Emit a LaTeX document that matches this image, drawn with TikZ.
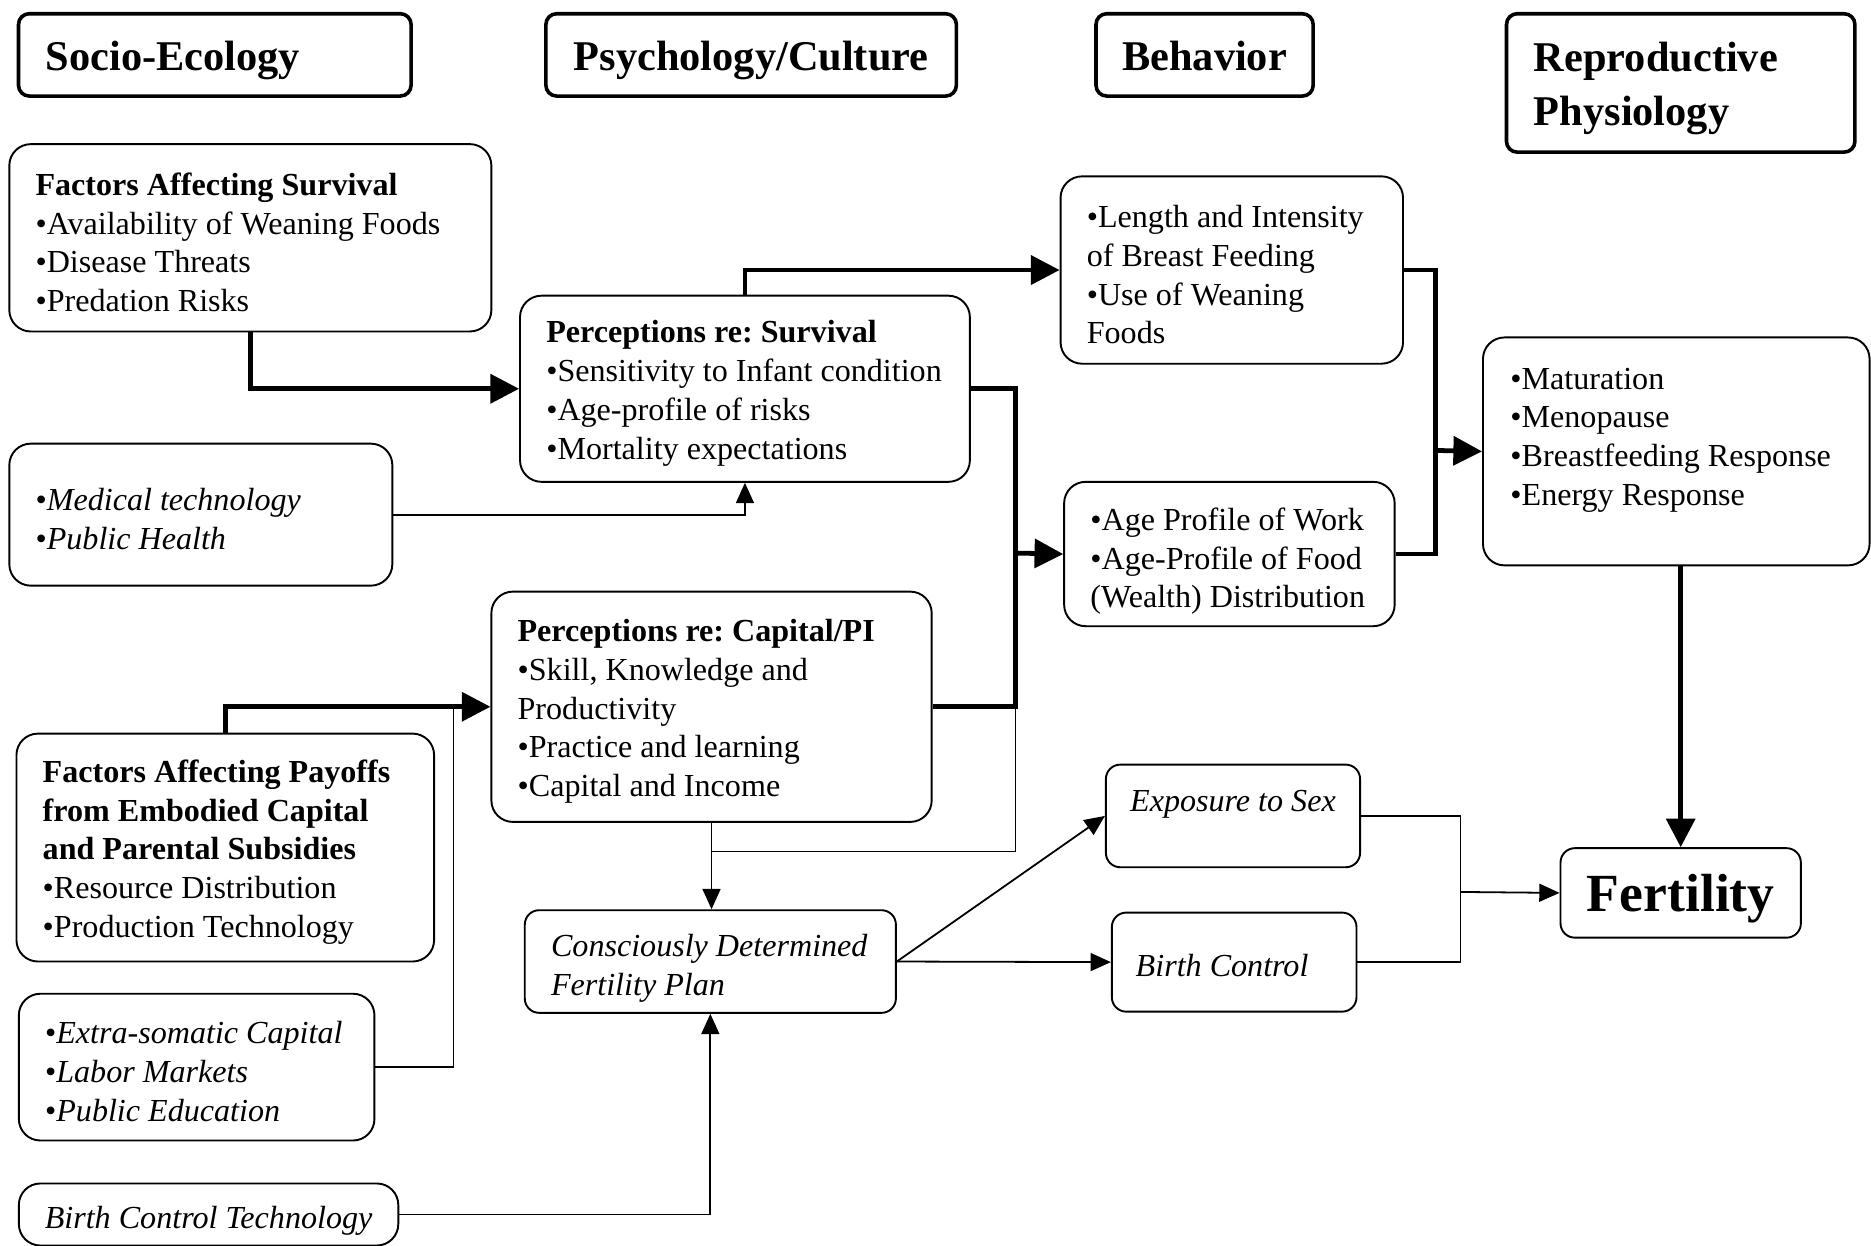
\documentclass[tikz,border=0pt]{standalone}
\usepackage{fontspec}
\setmainfont{Liberation Serif}
\usetikzlibrary{arrows.meta}

\newcommand{\bodyfont}{\fontsize{26.9}{32.5}\selectfont\frenchspacing}
\newcommand{\headfont}{\fontsize{35.5}{45}\selectfont\bfseries}
\newcommand{\bigfont}{\fontsize{45}{50}\selectfont\bfseries}

\tikzset{
  head/.style={draw,line width=3pt,rounded corners=9pt,anchor=north west,
    align=flush left,inner xsep=23pt,inner ysep=0pt,font=\headfont,text height=34pt},
  box/.style={draw,line width=1.6pt,rounded corners=18pt,anchor=north west,
    align=flush left,inner xsep=22pt,inner ysep=0pt,text height=26.5pt},
  cbox/.style={box,inner xsep=8pt},
  fat/.style={line width=4pt,-{Triangle[length=24pt,width=24pt]}},
  fatline/.style={line width=4pt},
  thin/.style={line width=1.5pt,-{Triangle[length=17pt,width=15pt]}},
  thinline/.style={line width=1.5pt}
}
\tikzstyle{every node}=[font=\bodyfont]

\begin{document}
\begin{tikzpicture}[x=1pt,y=-1pt]
    \useasboundingbox (0,0) rectangle (1568,1044);
    % column heads
    \node[head,text width=283pt,text depth=8pt,minimum height=69pt] (socio) at (14,10) {Socio-Ecology};
    \node[head,inner xsep=8pt,text depth=8pt,minimum width=344pt,minimum height=69pt] (psych) at (456,10) {Psychology/Culture};
    \node[head,inner xsep=8pt,text depth=8pt,minimum width=182pt,minimum height=69pt] (behav) at (917,10) {Behavior};
    \node[head,text width=246pt,minimum height=116pt] (repro) at (1261,10) {Reproductive\\Physiology};
    % socio-ecology
    \node[box,text width=360pt,minimum height=157pt] (FS) at (7,120)
      {\textbf{Factors Affecting Survival}\\•Availability of Weaning Foods\\•Disease Threats\\•Predation Risks};
    \node[box,text width=277pt,minimum height=119pt] (MT) at (7,371)
      {•\textit{Medical technology}\\•\textit{Public Health}};
    \node[box,text width=306pt,minimum height=191pt] (FP) at (13,614)
      {\textbf{Factors Affecting Payoffs}\\\textbf{from Embodied Capital}\\\textbf{and Parental Subsidies}\\•Resource Distribution\\•Production Technology};
    \node[box,text width=254pt,minimum height=123pt] (ES) at (15,832)
      {•\textit{Extra-somatic Capital}\\•\textit{Labor Markets}\\•\textit{Public Education}};
    \node[cbox,text height=30pt,minimum width=318pt,minimum height=52pt] (BCT) at (15,991)
      {\textit{Birth Control Technology}};
    % psychology/culture
    \node[box,text width=333pt,minimum height=156pt] (PS) at (435,247)
      {\textbf{Perceptions re: Survival}\\•Sensitivity to Infant condition\\•Age-profile of risks\\•Mortality expectations};
    \node[box,text width=325pt,minimum height=193pt] (PC) at (411,495)
      {\textbf{Perceptions re: Capital/PI}\\•Skill, Knowledge and\\Productivity\\•Practice and learning\\•Capital and Income};
    \node[box,rounded corners=12pt,text height=30pt,text width=267pt,minimum height=86pt] (CD) at (439,762)
      {\textit{Consciously Determined}\\\textit{Fertility Plan}};
    % behavior
    \node[box,text width=243pt,minimum height=157pt] (BF) at (888,147)
      {•Length and Intensity\\of Breast Feeding\\•Use of Weaning\\Foods};
    \node[box,text height=31pt,text width=233pt,minimum height=121pt] (AW) at (891,403)
      {•Age Profile of Work\\•Age-Profile of Food\\(Wealth) Distribution};
    \node[cbox,rounded corners=12pt,minimum width=213pt,minimum height=86pt,text depth=34pt] (EX) at (926,640)
      {\textit{Exposure to Sex}};
    \node[box,rounded corners=12pt,inner xsep=20pt,text height=25pt,text width=165pt,minimum height=83pt] (BC) at (931,764)
      {\textit{Birth Control}};
    % reproductive physiology
    \node[box,inner xsep=23pt,text width=278pt,minimum height=191pt,text depth=131pt] (RP) at (1242,282)
      {•Maturation\\•Menopause\\•Breastfeeding Response\\•Energy Response};
    \node[box,rounded corners=12pt,align=center,text height=41pt,minimum width=201pt,minimum height=75pt,font=\bigfont] (F) at (1307,710) {Fertility};
    % junctions
    \coordinate (busA) at (851,463.5);
    \coordinate (busB) at (1203,377.5);
    \coordinate (esUp) at (380,591.5);
    \coordinate (fJoin) at (1224,747.5);
    \path (PC.south) ++(0,24) coordinate (pcTap);
    % thick links
    \draw[fat] (FS.south) |- (PS.west);
    \draw[fat] (PS.north) |- (BF.west);
    \draw[fat] (FP.north) |- (PC.west);
    \draw[fatline] (PS.east) -| (busA);
    \draw[fatline] (PC.east) -| (busA);
    \draw[fat] (busA) -- (AW.west);
    \draw[fatline] (BF.east) -| (busB);
    \draw[fatline] (AW.east) -| (busB);
    \draw[fat] (busB) -- (RP.west);
    \draw[fat] (RP.south -| F.north) -- (F.north);
    % thin links
    \draw[thin] (MT.east) -| (PS.south);
    \draw[thinline] (ES.east) -| (esUp);
    \draw[thin] (PC.south) -- (PC.south |- CD.north);
    \draw[thinline] (pcTap) -| (busA);
    \draw[thin] (BCT.east) -| (CD.south);
    \draw[thin] (CD.east) -- (EX.west);
    \draw[thin] (CD.east) -- (BC.west);
    \draw[thinline] (EX.east) -| (fJoin);
    \draw[thinline] (BC.east) -| (fJoin);
    \draw[thin] (fJoin) -- (F.west);
\end{tikzpicture}
\end{document}
